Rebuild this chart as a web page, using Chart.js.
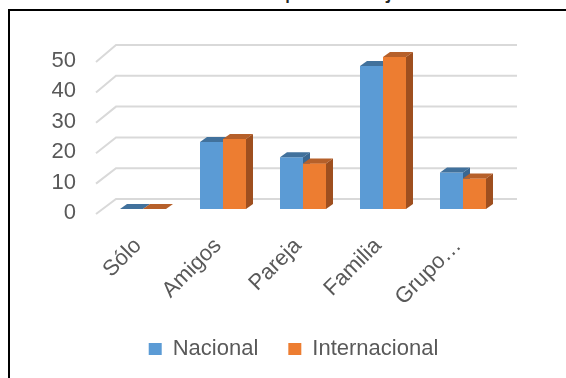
<!DOCTYPE html>
<html>
<head>
<meta charset="utf-8">
<script src="https://cdn.jsdelivr.net/npm/chart.js@4.4.0/dist/chart.umd.min.js"></script>
<style>
  html, body { margin: 0; padding: 0; background: #fff; overflow: hidden; }
  body { width: 566px; height: 378px; position: relative; }
  #title { position: absolute; left: 150px; top: -23px; white-space: nowrap;
           font: 25px "Liberation Sans", Arial, sans-serif; line-height: 24px; color: #262626; }
  #frame { position: absolute; left: 8px; top: 9px; width: 620px; height: 420px;
           border-left: 2px solid #000; border-top: 2px solid #000; }
  #c { position: absolute; left: 0; top: 0; }
</style>
</head>
<body>
<div id="title">Gráfico 3: Tipo de viaje</div>
<div id="frame"></div>
<canvas id="c" width="566" height="378"></canvas>
<script>
const categories = ['Sólo', 'Amigos', 'Pareja', 'Familia', 'Grupo…'];
const nacional = [0, 22, 17, 47, 12];
const internacional = [0, 23, 15, 50, 10];
const yTicks = [0, 10, 20, 30, 40, 50];
const seriesNames = ['Nacional', 'Internacional'];

const FONT = '"Liberation Sans", Arial, sans-serif';
const DEPTH = { x: 7, y: 5 };
const faceColors = [
  { top: '#41719c', side: '#3a6791' },
  { top: '#b6602a', side: '#9e4f1f' }
];

const gridPlugin = {
  id: 'grid3d',
  beforeDatasetsDraw(chart) {
    const { ctx, chartArea: a, scales: { y } } = chart;
    ctx.save();
    ctx.strokeStyle = '#d9d9d9';
    ctx.lineWidth = 2;
    yTicks.forEach(v => {
      const p = y.getPixelForValue(v);
      const fy = p + 5, by = p - 10 - v * 0.04;
      ctx.beginPath();
      ctx.moveTo(a.left - 7, fy);
      ctx.lineTo(a.left + 13, by);
      ctx.lineTo(a.right + 14, by);
      ctx.stroke();
    });
    ctx.restore();
  }
};

function drawFaces(ctx, el, c) {
  const { x, y, base, width } = el.getProps(['x', 'y', 'base', 'width'], true);
  const l = x - width / 2, r = x + width / 2;
  ctx.fillStyle = c.top;
  ctx.beginPath();
  ctx.moveTo(l, y); ctx.lineTo(l + DEPTH.x, y - DEPTH.y);
  ctx.lineTo(r + DEPTH.x, y - DEPTH.y); ctx.lineTo(r, y);
  ctx.closePath(); ctx.fill();
  ctx.fillStyle = c.side;
  ctx.beginPath();
  ctx.moveTo(r, y); ctx.lineTo(r + DEPTH.x, y - DEPTH.y);
  ctx.lineTo(r + DEPTH.x, base - DEPTH.y); ctx.lineTo(r, base);
  ctx.closePath(); ctx.fill();
}

const bar3dPlugin = {
  id: 'bar3d',
  afterDatasetsDraw(chart) {
    const ctx = chart.ctx;
    const m0 = chart.getDatasetMeta(0), m1 = chart.getDatasetMeta(1);
    ctx.save();
    m0.data.forEach((el, i) => {
      drawFaces(ctx, el, faceColors[0]);
      m1.data[i].draw(ctx);
      drawFaces(ctx, m1.data[i], faceColors[1]);
    });
    ctx.restore();
  }
};

new Chart(document.getElementById('c'), {
  type: 'bar',
  data: {
    labels: categories,
    datasets: [
      { label: seriesNames[0], data: nacional, backgroundColor: '#5b9bd5' },
      { label: seriesNames[1], data: internacional, backgroundColor: '#ed7d31' }
    ]
  },
  options: {
    responsive: false,
    animation: false,
    devicePixelRatio: 1,
    categoryPercentage: 0.575,
    barPercentage: 1,
    layout: { padding: { left: 21, right: 0, top: 57, bottom: 8 } },
    scales: {
      x: {
        grid: { display: false, drawTicks: false },
        border: { display: false },
        ticks: { color: '#595959', font: { family: FONT, size: 22 }, minRotation: 45, maxRotation: 45, padding: 24, labelOffset: -5 },
        afterFit(s) { s.height = 99; }
      },
      y: {
        min: 0, max: 50,
        grid: { display: false, drawTicks: false },
        border: { display: false },
        ticks: { stepSize: 10, color: '#595959', font: { family: FONT, size: 22 }, padding: 27, labelOffset: 4 },
        afterFit(s) { s.width = 82; }
      },
      yRight: {
        position: 'right',
        grid: { display: false, drawTicks: false },
        border: { display: false },
        ticks: { display: false },
        afterFit(s) { s.width = 63; }
      }
    },
    plugins: {
      legend: {
        position: 'bottom',
        labels: { boxWidth: 13, boxHeight: 12, color: '#595959', font: { family: FONT, size: 22 }, padding: 30 }
      },
      tooltip: { enabled: false }
    }
  },
  plugins: [gridPlugin, bar3dPlugin]
});
</script>
</body>
</html>
